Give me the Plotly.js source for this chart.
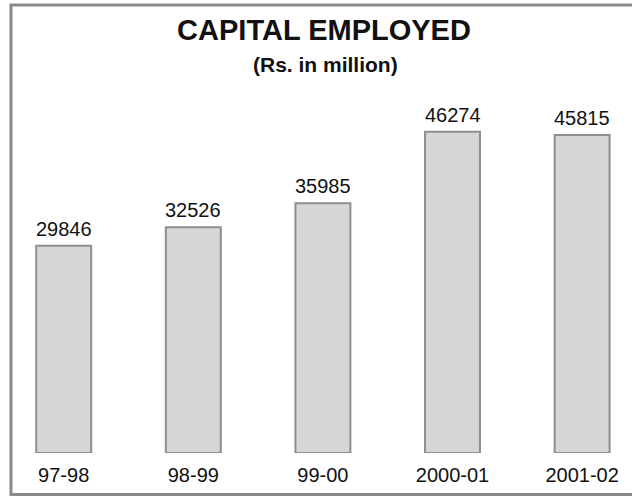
<!DOCTYPE html>
<html>
<head>
<meta charset="utf-8">
<script src="https://cdn.plot.ly/plotly-3.0.1.min.js"></script>
<style>
html,body{margin:0;padding:0;background:#fff;}
#chart{width:632px;height:496px;}
</style>
</head>
<body>
<div id="chart"></div>
<script>
const categories = ["97-98", "98-99", "99-00", "2000-01", "2001-02"];
const values = [29846, 32526, 35985, 46274, 45815];
const valueLabels = ["29846", "32526", "35985", "46274", "45815"];
const titleText = "CAPITAL EMPLOYED";
const subtitleText = "(Rs. in million)";

const FONT = "Arial, 'Liberation Sans', sans-serif";
const idx = categories.map((c, i) => i);

const trace = {
  type: "bar",
  x: idx,
  y: values,
  marker: {color: "#d6d6d6", line: {color: "#8e8e8e", width: 2}},
  hoverinfo: "skip"
};

const annotations = idx.map(i => ({
  x: i, y: values[i], xref: "x", yref: "y",
  text: valueLabels[i], showarrow: false,
  yanchor: "bottom", yshift: 4,
  font: {family: FONT, size: 20, color: "#111"}
}));
annotations.push({
  text: "<b>" + subtitleText + "</b>", showarrow: false,
  xref: "paper", yref: "paper", x: 325 / 632, y: (453 - 65) / 393,
  xanchor: "center", yanchor: "middle",
  font: {family: FONT, size: 21, color: "#111"}
});

const layout = {
  width: 632, height: 496,
  margin: {l: 0, r: 0, t: 60, b: 43, pad: 0},
  paper_bgcolor: "#fff", plot_bgcolor: "#fff",
  showlegend: false,
  bargap: 0.576,
  title: {
    text: "<b>" + titleText + "</b>",
    font: {family: FONT, size: 29, color: "#111"},
    x: 324 / 632, xanchor: "center", xref: "paper",
    y: 1 - 30 / 496, yref: "container", yanchor: "middle"
  },
  xaxis: {
    range: [-0.4915, 4.385],
    tickmode: "array", tickvals: idx, ticktext: categories,
    ticks: "", showgrid: false, zeroline: false, showline: false,
    ticklabelstandoff: 8,
    tickfont: {family: FONT, size: 20, color: "#111"},
    fixedrange: true
  },
  yaxis: {
    range: [0, 56628], visible: false, showgrid: false, zeroline: false,
    fixedrange: true
  },
  annotations: annotations,
  shapes: [{
    type: "rect", xref: "paper", yref: "paper",
    x0: 11 / 632, x1: 645 / 632,
    y0: (453 - 494.5) / 393, y1: (453 - 5) / 393,
    line: {color: "#8a8a8a", width: 3}, fillcolor: "rgba(0,0,0,0)",
    layer: "above"
  }]
};

Plotly.newPlot("chart", [trace], layout, {displayModeBar: false, staticPlot: true});
</script>
</body>
</html>
